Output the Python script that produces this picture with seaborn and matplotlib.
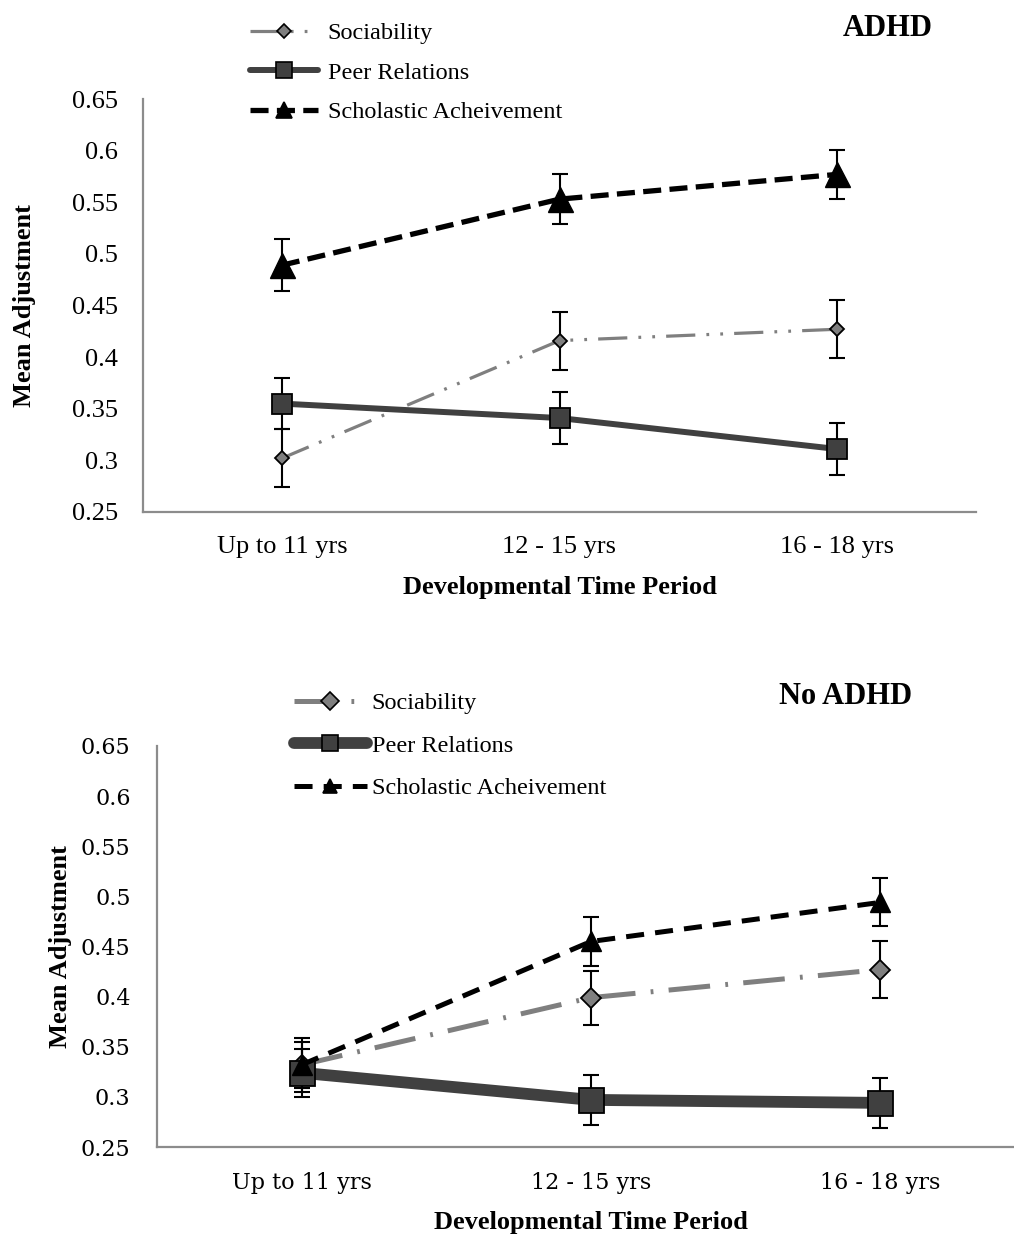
import matplotlib
matplotlib.use("Agg")
import matplotlib.pyplot as plt
import seaborn as sns
from matplotlib.lines import Line2D

# data
periods = ["Up to 11 yrs", "12 - 15 yrs", "16 - 18 yrs"]
y_ticks = [0.25, 0.3, 0.35, 0.4, 0.45, 0.5, 0.55, 0.6, 0.65]
y_tick_labels = ["0.25", "0.3", "0.35", "0.4", "0.45", "0.5", "0.55", "0.6", "0.65"]

adhd_soc = [0.302, 0.416, 0.427]
adhd_soc_err = [0.028, 0.028, 0.028]
adhd_peer = [0.355, 0.341, 0.311]
adhd_peer_err = [0.025, 0.025, 0.025]
adhd_schol = [0.489, 0.553, 0.577]
adhd_schol_err = [0.025, 0.024, 0.024]

noadhd_soc = [0.332, 0.399, 0.427]
noadhd_soc_err = [0.027, 0.027, 0.028]
noadhd_peer = [0.324, 0.297, 0.294]
noadhd_peer_err = [0.024, 0.025, 0.025]
noadhd_schol = [0.332, 0.455, 0.494]
noadhd_schol_err = [0.023, 0.024, 0.024]

labels = ["Sociability", "Peer Relations", "Scholastic Acheivement"]

sns.set_style("white")
plt.rcParams["font.family"] = ["Liberation Serif", "DejaVu Serif"]
plt.rcParams["lines.scale_dashes"] = False
plt.rcParams["text.color"] = "black"
plt.rcParams["axes.labelcolor"] = "black"
plt.rcParams["xtick.color"] = "black"
plt.rcParams["ytick.color"] = "black"

W, H = 1014, 1237
fig = plt.figure(figsize=(W / 100, H / 100), dpi=100)

ax1 = fig.add_axes([143 / W, 1 - 512 / H, 833 / W, 413 / H])
ax2 = fig.add_axes([157 / W, 1 - 1147 / H, 868 / W, 401 / H])

GRAY = "#7f7f7f"
DARK = "#404040"

top_styles = [
    dict(color=GRAY, lw=2.3, ls=(0, (21, 8, 2, 8, 2, 8)), marker="D", ms=7.5,
         mfc=GRAY, mec="black", mew=1.3),
    dict(color=DARK, lw=4.3, ls="-", marker="s", ms=14.5,
         mfc=DARK, mec="black", mew=1.3),
    dict(color="black", lw=3.8, ls=(0, (13, 6)), marker="^", ms=18,
         mfc="black", mec="black", mew=1.0),
]
bottom_styles = [
    dict(color=GRAY, lw=3.6, ls=(0, (30, 11, 2, 11)), marker="D", ms=10,
         mfc=GRAY, mec="black", mew=1.3),
    dict(color=DARK, lw=8.5, ls="-", marker="s", ms=18,
         mfc=DARK, mec="black", mew=1.3),
    dict(color="black", lw=3.6, ls=(0, (13, 8)), marker="^", ms=14.5,
         mfc="black", mec="black", mew=1.0),
]


def draw_panel(ax, series, errs, styles, tick_font, tick_size, xpad, ypad, lab_x, lab_y):
    for vals, err, st in zip(series, errs, styles):
        ax.errorbar(periods, vals, yerr=err, fmt="none", ecolor="black",
                    elinewidth=1.5, capsize=6, capthick=1.5, zorder=2)
        sns.lineplot(x=periods, y=vals, ax=ax, errorbar=None, zorder=3,
                     linestyle=st["ls"], color=st["color"], lw=st["lw"],
                     marker=st["marker"], markersize=st["ms"],
                     markerfacecolor=st["mfc"], markeredgecolor=st["mec"],
                     markeredgewidth=st["mew"])
    ax.set_xlim(-0.5, 2.5)
    ax.set_ylim(0.25, 0.65)
    ax.set_yticks(y_ticks)
    ax.set_yticklabels(y_tick_labels, fontfamily=tick_font, fontsize=tick_size)
    ax.set_xticks(range(len(periods)))
    ax.set_xticklabels(periods, fontfamily=tick_font, fontsize=tick_size)
    ax.tick_params(axis="y", direction="in", length=6, width=1.3, color="#8c8c8c", pad=ypad)
    ax.tick_params(axis="x", length=0, pad=xpad)
    for s in ["top", "right"]:
        ax.spines[s].set_visible(False)
    for s in ["left", "bottom"]:
        ax.spines[s].set_color("#8c8c8c")
        ax.spines[s].set_linewidth(1.6)
    ax.set_xlabel("Developmental Time Period", fontsize=19, fontweight="bold")
    ax.set_ylabel("Mean Adjustment", fontsize=19, fontweight="bold")
    ax.xaxis.set_label_coords(0.5, lab_x)
    ax.yaxis.set_label_coords(lab_y, 0.5)


draw_panel(ax1, [adhd_soc, adhd_peer, adhd_schol],
           [adhd_soc_err, adhd_peer_err, adhd_schol_err],
           top_styles, "Liberation Serif", 19, 17, 18, -0.155, -0.128)
draw_panel(ax2, [noadhd_soc, noadhd_peer, noadhd_schol],
           [noadhd_soc_err, noadhd_peer_err, noadhd_schol_err],
           bottom_styles, "DejaVu Serif", 16, 18, 19, -0.16, -0.098)


def legend_handles(styles, sizes):
    hs = []
    for st, ms in zip(styles, sizes):
        hs.append(Line2D([], [], color=st["color"], lw=st["lw"], linestyle=st["ls"],
                         marker=st["marker"], markersize=ms,
                         markerfacecolor=st["mfc"], markeredgecolor=st["mec"],
                         markeredgewidth=1.2))
    return hs


fig.legend(legend_handles(top_styles, [7, 11, 11]), labels,
           loc="upper left", bbox_to_anchor=(250 / W, 1 - 22 / H),
           frameon=False, fontsize=17.5, handlelength=2.8, handletextpad=0.4,
           labelspacing=0.72, borderpad=0, borderaxespad=0)
fig.legend(legend_handles(bottom_styles, [9, 11, 10]), labels,
           loc="upper left", bbox_to_anchor=(294 / W, 1 - 692 / H),
           frameon=False, fontsize=17.5, handlelength=3.0, handletextpad=0.2,
           labelspacing=0.85, borderpad=0, borderaxespad=0)

fig.text(888 / W, 1 - 28 / H, "ADHD", fontsize=22, fontweight="bold",
         ha="center", va="center")
fig.text(846 / W, 1 - 696 / H, "No ADHD", fontsize=22, fontweight="bold",
         ha="center", va="center")

fig.savefig("out.png", dpi=100)
